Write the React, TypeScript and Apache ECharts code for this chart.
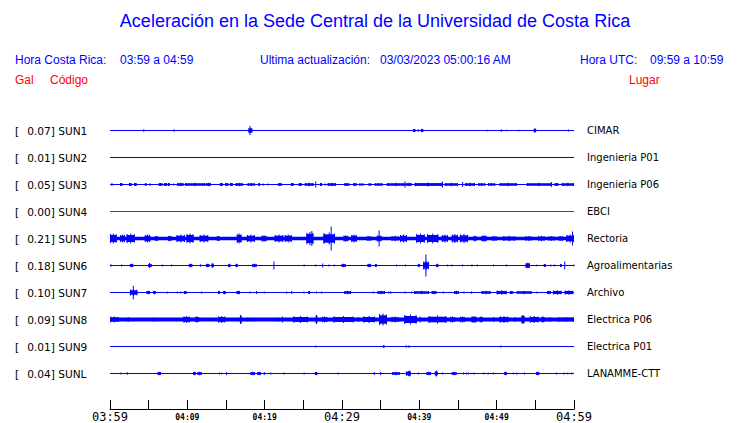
import React, { useEffect, useRef } from "react";
import * as echarts from "echarts";

// ---------- Texts ----------
const TITLE = "Aceleración en la Sede Central de la Universidad de Costa Rica";
const LOCAL_LABEL = "Hora Costa Rica:";
const LOCAL_RANGE = "03:59 a 04:59";
const UPDATE_LABEL = "Ultima actualización:";
const UPDATE_VALUE = "03/03/2023 05:00:16 AM";
const UTC_LABEL = "Hora UTC:";
const UTC_RANGE = "09:59 a 10:59";
const COL_GAL = "Gal";
const COL_CODE = "Código";
const COL_PLACE = "Lugar";

// ---------- Data ----------
const stationCodes = ["SUN1", "SUN2", "SUN3", "SUN4", "SUN5", "SUN6", "SUN7", "SUN8", "SUN9", "SUNL"];
const peakGal = [0.07, 0.01, 0.05, 0.0, 0.21, 0.18, 0.1, 0.09, 0.01, 0.04];
const places = [
  "CIMAR", "Ingenieria P01", "Ingenieria P06", "EBCI", "Rectoria",
  "Agroalimentarias", "Archivo", "Electrica P06", "Electrica P01", "LANAMME-CTT",
];
// tick labels every 10 minutes (x in minutes since 03:59)
const tickLabels = ["03:59", "04:09", "04:19", "04:29", "04:39", "04:49", "04:59"];
const windowMinutes = [0, 60];
// background noise half-amplitude of each trace (display units)
const noiseLevel = [0.5, 0.5, 0.5, 0.5, 1.8, 0.5, 0.5, 1.9, 0.5, 0.5];

// events: [startMinute, endMinute, peakHalfAmplitude]
const sun1Events = [
  [4.36, 4.36, 1.3], [8.28, 8.28, 1.3], [17.9, 18.4, 2.6], [18.1, 18.1, 4.5], [39.2, 39.5, 1.6],
  [39.87, 39.87, 1.3], [40.2, 40.5, 1.8], [48.8, 48.8, 0.8], [50.6, 50.6, 1.3], [51.3, 51.3, 0.8],
  [52.9, 52.9, 0.8], [54.8, 55.1, 2], [59.3, 59.3, 1],
];
const sun2Events: number[][] = [];
const sun3Events = [
  [0.2, 0.3, 1.5], [1.3, 1.6, 1.6], [2.45, 2.8, 1.6], [3.1, 3.45, 1.6], [4.5, 4.75, 1.2], [5.15, 5.2, 1.3],
  [6.3, 6.8, 1.6], [7.0, 7.4, 1.6], [7.5, 7.75, 1.6], [8.2, 8.25, 1], [8.7, 9.5, 1.8], [9.7, 12.3, 1.8],
  [12.4, 13.05, 1.8], [14.2, 14.6, 1.6], [14.9, 15.3, 1.6], [15.5, 15.9, 1.6], [16.25, 17.15, 1.8],
  [17.8, 18.75, 1.6], [19.2, 19.4, 1.6], [19.8, 19.85, 1], [20.4, 20.45, 1], [21.75, 22.2, 1.6],
  [23.4, 23.75, 1.6], [24.4, 24.8, 1.6], [25.2, 26.3, 1.8], [26.55, 26.65, 3], [27.15, 27.4, 1.6],
  [27.8, 27.85, 1], [28.15, 29.2, 1.8], [30.3, 30.95, 1.6], [31.45, 31.9, 1.6], [32.2, 32.8, 1.2],
  [33.4, 33.8, 1.2], [34.25, 35.25, 1.6], [35.8, 38.1, 1.8], [38.1, 38.2, 3], [38.3, 39.0, 1.8],
  [39.4, 42.9, 2], [42.95, 43.05, 3], [43.3, 45.0, 1.8], [45.55, 45.65, 2.5], [45.9, 47.2, 1.8],
  [47.6, 48.5, 1.6], [48.9, 49.8, 1.6], [50.4, 52.6, 1.8], [53.9, 57.0, 1.8], [57.05, 57.15, 2.5],
  [57.5, 58, 1.6], [58.4, 60, 1.8],
];
const sun4Events: number[][] = [];
const sun5Events = [
  [0, 0.86, 5], [1.3, 1.95, 4], [2.15, 3.2, 5], [4.5, 5.2, 4], [5.8, 6.25, 2.5], [7.5, 8, 2.7],
  [8.6, 9.7, 4], [9.9, 10.8, 5], [11.6, 12.7, 4], [13.8, 14.2, 2.5], [16.4, 17.0, 5], [17.7, 18.75, 4],
  [19.6, 20.25, 3.3], [21.3, 22.4, 4], [22.6, 23.5, 4], [25.4, 26.3, 6.5], [26.1, 26.1, 7.5],
  [27.6, 29.1, 6], [28.6, 28.6, 12], [30.2, 30.8, 3.3], [31.2, 31.9, 4], [33.2, 33.8, 2.5],
  [34.5, 35.1, 3.3], [34.8, 34.8, 8], [36.4, 37.3, 2.7], [37.5, 38.4, 4], [39.6, 40.7, 5],
  [41, 42.45, 5], [42.9, 43.7, 4], [44.2, 45, 4.5], [45.25, 46.3, 4.5], [47, 47.4, 2.7],
  [48.05, 48.7, 3.3], [49.35, 50, 2.5], [50.85, 52.4, 2.7], [53.7, 54.5, 2.5], [55.4, 56.2, 2.7],
  [56.7, 57.5, 2.5], [58, 58.6, 2.5], [59, 60, 4], [59.8, 59.8, 7],
];
const sun6Events = [
  [0.13, 0.13, 1.3], [1.5, 1.5, 1], [2.58, 3.0, 1.8], [4.95, 5.38, 1.8], [5.1, 5.1, 2.5], [6.76, 6.76, 1],
  [7.97, 7.97, 1], [10.2, 10.64, 1.8], [11.72, 11.72, 1.3], [12.41, 12.84, 1.8], [13.14, 13.4, 2.2],
  [15.3, 15.56, 1.8], [16.25, 16.5, 1.8], [18.4, 18.96, 1.8], [21.2, 21.2, 4], [25.1, 25.1, 1],
  [26.6, 26.6, 1], [27.5, 27.5, 2], [28.3, 28.3, 1], [29, 29, 1], [29.95, 30.47, 1.8], [33.3, 33.75, 1.8],
  [34.26, 34.5, 1.6], [37.06, 37.06, 1], [38.2, 38.2, 1], [39.8, 40.1, 1.5], [40.5, 41.25, 4.5],
  [40.85, 40.85, 11], [42.2, 42.45, 1.8], [43.66, 43.66, 1], [44.2, 44.2, 1], [45.6, 45.6, 1],
  [46.8, 46.8, 1], [47.5, 47.5, 1], [49.6, 49.6, 1], [51.3, 51.3, 1], [53.75, 54.3, 2.8], [55.2, 55.2, 1],
  [56.1, 56.35, 1.6], [57, 57, 1], [57.5, 57.5, 1], [58.2, 58.4, 1.6], [58.8, 58.8, 4], [60, 60, 1],
];
const sun7Events = [
  [2.58, 3.53, 3.2], [3.01, 3.01, 6.7], [4.74, 5.17, 1.8], [5.6, 5.9, 1.8], [7.41, 7.41, 1], [8.7, 8.7, 1],
  [9.13, 9.13, 1], [9.56, 9.9, 1.6], [11.85, 11.85, 1], [14, 14.2, 1.8], [14.65, 14.95, 1.8],
  [16.37, 16.8, 1.8], [18.1, 18.1, 1], [18.96, 18.96, 1.5], [19.95, 19.95, 1], [22.84, 22.84, 1],
  [23.5, 23.5, 1.5], [25.08, 25.08, 1], [25.64, 25.86, 1.6], [26.7, 26.7, 1], [27.37, 27.37, 1],
  [30.3, 31.16, 1.8], [34.05, 34.05, 1], [34.6, 35.55, 1.8], [36, 36, 1], [36.3, 36.3, 1.3],
  [38.14, 38.14, 1], [39, 39, 1], [39.35, 41.25, 1.8], [41.6, 42.2, 1.8], [43.1, 43.1, 1],
  [44.5, 45.1, 1.8], [45.77, 45.77, 1], [46.76, 46.76, 1.3], [48.05, 49.2, 1.8], [50, 51.3, 2.2],
  [51.7, 52.15, 1.6], [52.6, 54.5, 1.8], [55.2, 55.2, 1], [56.5, 57, 1.8], [57.3, 58.4, 2.2], [58.8, 59.9, 2.2],
];
const sun8Events = [
  [0, 1.1, 3], [2.35, 2.35, 2.5], [5.7, 5.7, 2], [9.5, 10.3, 3.5], [11, 11.5, 3], [14, 14.9, 3.5],
  [16.8, 17, 4.5], [17.8, 17.8, 2], [18.6, 18.6, 2], [21.7, 21.7, 2], [22.3, 22.3, 3], [23.7, 25.6, 3.5],
  [26.6, 26.8, 4.5], [27.4, 28.1, 3], [28.9, 31.5, 3.5], [32.1, 32.1, 2.5], [32.75, 34.25, 3.5],
  [34.8, 35.8, 6], [36.4, 37.3, 3], [38.05, 39.65, 5], [40.1, 40.1, 3], [41.2, 43.5, 4], [44, 44.6, 3],
  [45.25, 45.9, 3], [46.76, 47.4, 3.5], [47.8, 48.2, 3], [49.6, 49.6, 2.5], [50.4, 51.5, 3.5],
  [52.4, 52.4, 2.5], [53.2, 53.6, 4.5], [54.3, 55.4, 3.5], [55.8, 56.2, 3], [56.9, 56.9, 2.5], [58, 60, 2.5],
];
const sun9Events = [
  [26.6, 26.6, 1], [35.3, 35.5, 1.2], [38.3, 38.3, 1.3], [38.65, 38.65, 1.3], [50.55, 50.55, 1],
];
const sunlEvents = [
  [1.42, 1.42, 1], [2.24, 2.24, 1.3], [6.16, 6.59, 1.8], [10.77, 11.07, 1.8], [11.33, 11.85, 1.8],
  [14.13, 14.13, 1], [14.44, 14.44, 1], [15.08, 15.08, 1.5], [18.18, 18.75, 1.8], [19.05, 19.52, 1.8],
  [19.95, 19.95, 1.5], [20.8, 20.8, 1], [22.5, 22.5, 1], [25.1, 25.1, 1], [26.5, 26.8, 1.8], [29.5, 29.5, 1],
  [34.17, 34.17, 1.5], [35, 35, 1.5], [36.5, 37.45, 1.8], [38.27, 38.9, 2.4], [38.74, 38.74, 3],
  [39.9, 39.9, 1], [40.94, 41.5, 1.8], [42, 42.4, 2.2], [42.2, 42.2, 3], [43, 43, 1], [44.2, 44.8, 1.8],
  [45.7, 45.7, 1], [46.1, 46.1, 1], [46.33, 46.33, 1], [47.06, 47.06, 1], [48.35, 48.35, 1],
  [48.9, 48.9, 1], [49.6, 49.6, 1], [51, 51.3, 1.8], [52.15, 52.15, 1], [52.6, 52.6, 1], [53.6, 53.6, 1],
  [55.1, 55.5, 1.8], [57.75, 57.75, 1], [58.7, 58.7, 1], [59.2, 59.2, 1], [59.7, 59.7, 1],
];
const traceEvents = [
  sun1Events, sun2Events, sun3Events, sun4Events, sun5Events,
  sun6Events, sun7Events, sun8Events, sun9Events, sunlEvents,
];

// ---------- Styles ----------
const BLUE = "#0000ff";
const RED = "#ff0000";
const traceColors = [BLUE, BLUE, BLUE, RED, BLUE, BLUE, BLUE, BLUE, BLUE, BLUE];
const SPACING = 27;
const BODY_RATIO = 0.7; // a burst's body is drawn lower than its peak, peak drawn as a thin spike

export default function App() {
  const ref = useRef<HTMLDivElement>(null);

  useEffect(() => {
    if (!ref.current) return;
    const chart = echarts.init(ref.current, undefined, { renderer: "svg" });

    const data: number[][] = [];
    traceEvents.forEach((evs, k) => {
      data.push([windowMinutes[0], windowMinutes[1], k, noiseLevel[k], 1]);
      evs.forEach((e) => data.push([e[0], e[1], k, e[2], 0]));
    });

    const n = stationCodes.length;
    const headerFont = '12px "Liberation Sans", Arial, sans-serif';
    const txt = (text: string, x: number, y: number, color: string, font = headerFont, align = "left") => ({
      type: "text",
      x,
      y,
      silent: true,
      style: { text, fill: color, font, align, textAlign: align, verticalAlign: "middle", textVerticalAlign: "middle" },
    });

    chart.setOption({
      animation: false,
      backgroundColor: "#ffffff",
      grid: { left: 110, right: 166, top: 117, height: SPACING * n },
      graphic: [
        txt(TITLE, 375, 21, BLUE, '18px "Liberation Sans", Arial, sans-serif', "center"),
        txt(LOCAL_LABEL, 15, 60, BLUE),
        txt(LOCAL_RANGE, 120, 60, BLUE),
        txt(UPDATE_LABEL, 260, 60, BLUE),
        txt(UPDATE_VALUE, 380, 60, BLUE),
        txt(UTC_LABEL, 580, 60, BLUE),
        txt(UTC_RANGE, 650, 60, BLUE),
        txt(COL_GAL, 15, 80, RED),
        txt(COL_CODE, 50, 80, RED),
        txt(COL_PLACE, 629, 80, RED),
      ],
      xAxis: {
        type: "value",
        min: windowMinutes[0],
        max: windowMinutes[1],
        interval: 5,
        offset: 22,
        splitLine: { show: false },
        axisLine: { onZero: false, lineStyle: { color: "#000", width: 1 } },
        axisTick: { inside: true, length: 9, lineStyle: { color: "#000", width: 1 } },
        axisLabel: {
          margin: 0,
          showMinLabel: true,
          showMaxLabel: true,
          hideOverlap: false,
          formatter: (v: number) => {
            const m = Math.round(v);
            if (m % 10 !== 0) return "";
            const lab = tickLabels[m / 10];
            return m % 30 === 0 ? `{big|${lab}}` : `{small|${lab}}`;
          },
          rich: {
            big: { fontFamily: '"DejaVu Sans Mono", monospace', fontSize: 12, lineHeight: 16, color: "#000" },
            small: {
              fontFamily: '"DejaVu Sans Mono", monospace',
              fontSize: 8,
              fontWeight: "bold",
              lineHeight: 16,
              color: "#000",
            },
          },
        },
      },
      yAxis: [
        {
          type: "value",
          show: false,
          inverse: true,
          min: -SPACING / 2,
          max: SPACING * n - SPACING / 2,
        },
        {
          type: "category",
          data: stationCodes,
          inverse: true,
          position: "left",
          axisLine: { show: false },
          axisTick: { show: false },
          splitLine: { show: false },
          axisLabel: {
            margin: 95,
            align: "left",
            interval: 0,
            formatter: (v: string, i: number) => `{br|[}{v|${peakGal[i].toFixed(2)}] ${v}}`,
            rich: {
              br: {
                padding: [0, 8, 0, 0],
                fontFamily: '"DejaVu Sans", sans-serif',
                fontSize: 10.6,
                color: "#000",
              },
              v: { fontFamily: '"DejaVu Sans", sans-serif', fontSize: 10.6, color: "#000" },
            },
          },
        },
        {
          type: "category",
          data: places,
          inverse: true,
          position: "right",
          axisLine: { show: false },
          axisTick: { show: false },
          splitLine: { show: false },
          axisLabel: {
            margin: 13,
            interval: 0,
            color: "#000",
            fontFamily: '"DejaVu Sans", sans-serif',
            fontSize: 10,
          },
        },
      ],
      series: [
        {
          type: "custom",
          xAxisIndex: 0,
          yAxisIndex: 0,
          silent: true,
          encode: { x: [0, 1], y: 2 },
          data,
          renderItem: (params: any, api: any) => {
            const t0 = api.value(0);
            const t1 = api.value(1);
            const k = api.value(2);
            const a = api.value(3);
            const isBase = api.value(4) === 1;
            const yc = k * SPACING;
            const color = traceColors[k];
            const p0 = api.coord([t0, yc]);
            const p1 = api.coord([t1, yc]);
            const xl = Math.min(p0[0], p1[0]);
            const xr = Math.max(p0[0], p1[0]);
            const yMid = p0[1];
            const w = xr - xl;
            const pxPerUnit = Math.abs(api.coord([t0, yc + 1])[1] - yMid);
            const rect = (x: number, wd: number, half: number) => ({
              type: "rect",
              shape: { x, y: yMid - half, width: wd, height: Math.max(half * 2, 1) },
              style: { fill: color },
            });
            if (isBase) {
              return rect(xl, w, a * pxPerUnit);
            }
            if (w < 1.5) {
              return rect((xl + xr) / 2 - 0.5, 1, a * pxPerUnit);
            }
            const cx = (xl + xr) / 2;
            return {
              type: "group",
              children: [
                rect(xl, w, a * BODY_RATIO * pxPerUnit),
                rect(cx - 0.5, 1, a * pxPerUnit),
                rect(xl, 1, a * 0.9 * pxPerUnit),
                rect(xr - 1, 1, a * 0.85 * pxPerUnit),
              ],
            };
          },
        },
      ],
    });

    return () => chart.dispose();
  }, []);

  return (
    <div
      ref={ref}
      style={{ position: "absolute", left: 0, top: 0, width: 740, height: 423, background: "#fff" }}
    />
  );
}
